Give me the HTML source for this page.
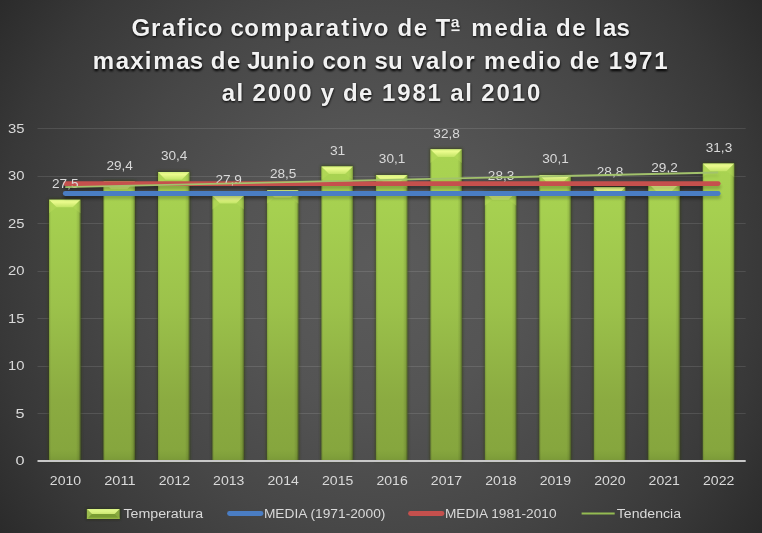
<!DOCTYPE html>
<html><head><meta charset="utf-8"><style>
html,body{margin:0;padding:0;background:#2a2a2a;}
svg{display:block;}
text{font-family:"Liberation Sans", sans-serif;opacity:0.999;}
.t{opacity:0.999;}
</style></head><body>
<svg width="762" height="533" viewBox="0 0 762 533">
<defs>
<radialGradient id="bg" cx="381" cy="266" r="470" gradientUnits="userSpaceOnUse">
<stop offset="0" stop-color="#5b5b5b"/>
<stop offset="0.3" stop-color="#545454"/>
<stop offset="0.57" stop-color="#474747"/>
<stop offset="0.82" stop-color="#383838"/>
<stop offset="1" stop-color="#2a2a2a"/>
</radialGradient>
<linearGradient id="bar" x1="0" y1="150" x2="0" y2="461" gradientUnits="userSpaceOnUse">
<stop offset="0" stop-color="#aad452"/>
<stop offset="0.193" stop-color="#a6d050"/>
<stop offset="0.498" stop-color="#9cc24b"/>
<stop offset="0.804" stop-color="#8bab41"/>
<stop offset="0.965" stop-color="#86a63e"/>
<stop offset="0.985" stop-color="#80a03b"/>
<stop offset="1" stop-color="#7a9838"/>
</linearGradient>
<linearGradient id="barh" x1="0" y1="0" x2="1" y2="0">
<stop offset="0" stop-color="#000" stop-opacity="0.16"/>
<stop offset="0.06" stop-color="#000" stop-opacity="0"/>
<stop offset="0.86" stop-color="#000" stop-opacity="0"/>
<stop offset="0.94" stop-color="#000" stop-opacity="0.1"/>
<stop offset="1" stop-color="#000" stop-opacity="0.38"/>
</linearGradient>
<linearGradient id="bevtop" x1="0" y1="0" x2="0" y2="1">
<stop offset="0" stop-color="#d6f080"/>
<stop offset="0.3" stop-color="#ebfb8c"/>
<stop offset="1" stop-color="#c2e466"/>
</linearGradient>
<linearGradient id="lgbev" x1="0" y1="0" x2="0" y2="1">
<stop offset="0" stop-color="#d8f282"/>
<stop offset="0.4" stop-color="#e0f68a"/>
<stop offset="1" stop-color="#cce872"/>
</linearGradient>
<filter id="sh" x="-20%" y="-5%" width="140%" height="110%">
<feGaussianBlur stdDeviation="1.6"/>
</filter>
<filter id="lsh" x="-5%" y="-200%" width="110%" height="500%">
<feGaussianBlur stdDeviation="1.8"/>
</filter>
<filter id="tsh" x="-5%" y="-20%" width="110%" height="140%">
<feGaussianBlur stdDeviation="1"/>
</filter>
</defs>
<rect width="762" height="533" fill="url(#bg)"/>

<rect x="37.5" y="413" width="708.2" height="1" fill="#ffffff" fill-opacity="0.11"/>
<rect x="37.5" y="366" width="708.2" height="1" fill="#ffffff" fill-opacity="0.11"/>
<rect x="37.5" y="318" width="708.2" height="1" fill="#ffffff" fill-opacity="0.11"/>
<rect x="37.5" y="271" width="708.2" height="1" fill="#ffffff" fill-opacity="0.11"/>
<rect x="37.5" y="223" width="708.2" height="1" fill="#ffffff" fill-opacity="0.11"/>
<rect x="37.5" y="176" width="708.2" height="1" fill="#ffffff" fill-opacity="0.11"/>
<rect x="37.5" y="128" width="708.2" height="1" fill="#ffffff" fill-opacity="0.11"/>
<text x="24.5" y="465.2" font-size="12.5" fill="#d9d9d9" text-anchor="end" textLength="9.04" lengthAdjust="spacingAndGlyphs">0</text>
<text x="24.5" y="417.7" font-size="12.5" fill="#d9d9d9" text-anchor="end" textLength="9.04" lengthAdjust="spacingAndGlyphs">5</text>
<text x="24.5" y="370.2" font-size="12.5" fill="#d9d9d9" text-anchor="end" textLength="16.48" lengthAdjust="spacingAndGlyphs">10</text>
<text x="24.5" y="322.7" font-size="12.5" fill="#d9d9d9" text-anchor="end" textLength="16.48" lengthAdjust="spacingAndGlyphs">15</text>
<text x="24.5" y="275.2" font-size="12.5" fill="#d9d9d9" text-anchor="end" textLength="16.48" lengthAdjust="spacingAndGlyphs">20</text>
<text x="24.5" y="227.7" font-size="12.5" fill="#d9d9d9" text-anchor="end" textLength="16.48" lengthAdjust="spacingAndGlyphs">25</text>
<text x="24.5" y="180.2" font-size="12.5" fill="#d9d9d9" text-anchor="end" textLength="16.48" lengthAdjust="spacingAndGlyphs">30</text>
<text x="24.5" y="132.6" font-size="12.5" fill="#d9d9d9" text-anchor="end" textLength="16.48" lengthAdjust="spacingAndGlyphs">35</text>
<g filter="url(#lsh)" opacity="0.22" transform="translate(0.5,3.2)">
<line x1="65.24" x2="718.20" y1="183.61" y2="183.61" stroke="#000" stroke-width="4.8" stroke-linecap="round"/>
<line x1="65.24" x2="718.20" y1="193.49" y2="193.49" stroke="#000" stroke-width="4.8" stroke-linecap="round"/>
<line x1="65.24" x2="718.20" y1="187.18" y2="172.51" stroke="#000" stroke-width="1.8" opacity="0.5"/>
</g>
<rect x="48.54" y="198.87" width="32.40" height="262.13" fill="#2a3a0c" opacity="0.7" filter="url(#sh)"/>
<rect x="49.04" y="199.67" width="31.40" height="261.33" fill="url(#bar)"/>
<rect x="49.04" y="199.67" width="31.40" height="261.33" fill="url(#barh)"/>
<path d="M49.04,199.67 L56.64,207.27 L49.04,213.27 Z" fill="#b8dc5c" opacity="0.45"/>
<path d="M49.04,199.67 L80.44,199.67 L72.84,207.27 L56.64,207.27 Z" fill="url(#bevtop)"/>
<path d="M80.44,199.67 L72.84,207.27 L80.44,213.27 Z" fill="#b8dc5c" opacity="0.35"/>
<rect x="103.02" y="180.81" width="32.40" height="280.19" fill="#2a3a0c" opacity="0.7" filter="url(#sh)"/>
<rect x="103.52" y="181.61" width="31.40" height="279.39" fill="url(#bar)"/>
<rect x="103.52" y="181.61" width="31.40" height="279.39" fill="url(#barh)"/>
<path d="M103.52,181.61 L111.12,189.21 L103.52,195.21 Z" fill="#b8dc5c" opacity="0.45"/>
<path d="M103.52,181.61 L134.92,181.61 L127.32,189.21 L111.12,189.21 Z" fill="url(#bevtop)"/>
<path d="M134.92,181.61 L127.32,189.21 L134.92,195.21 Z" fill="#b8dc5c" opacity="0.35"/>
<rect x="157.50" y="171.31" width="32.40" height="289.69" fill="#2a3a0c" opacity="0.7" filter="url(#sh)"/>
<rect x="158.00" y="172.11" width="31.40" height="288.89" fill="url(#bar)"/>
<rect x="158.00" y="172.11" width="31.40" height="288.89" fill="url(#barh)"/>
<path d="M158.00,172.11 L165.60,179.71 L158.00,185.71 Z" fill="#b8dc5c" opacity="0.45"/>
<path d="M158.00,172.11 L189.40,172.11 L181.80,179.71 L165.60,179.71 Z" fill="url(#bevtop)"/>
<path d="M189.40,172.11 L181.80,179.71 L189.40,185.71 Z" fill="#b8dc5c" opacity="0.35"/>
<rect x="211.98" y="195.07" width="32.40" height="265.93" fill="#2a3a0c" opacity="0.7" filter="url(#sh)"/>
<rect x="212.48" y="195.87" width="31.40" height="265.13" fill="url(#bar)"/>
<rect x="212.48" y="195.87" width="31.40" height="265.13" fill="url(#barh)"/>
<path d="M212.48,195.87 L220.08,203.47 L212.48,209.47 Z" fill="#b8dc5c" opacity="0.45"/>
<path d="M212.48,195.87 L243.88,195.87 L236.28,203.47 L220.08,203.47 Z" fill="url(#bevtop)"/>
<path d="M243.88,195.87 L236.28,203.47 L243.88,209.47 Z" fill="#b8dc5c" opacity="0.35"/>
<rect x="266.46" y="189.36" width="32.40" height="271.64" fill="#2a3a0c" opacity="0.7" filter="url(#sh)"/>
<rect x="266.96" y="190.16" width="31.40" height="270.84" fill="url(#bar)"/>
<rect x="266.96" y="190.16" width="31.40" height="270.84" fill="url(#barh)"/>
<path d="M266.96,190.16 L274.56,197.76 L266.96,203.76 Z" fill="#b8dc5c" opacity="0.45"/>
<path d="M266.96,190.16 L298.36,190.16 L290.76,197.76 L274.56,197.76 Z" fill="url(#bevtop)"/>
<path d="M298.36,190.16 L290.76,197.76 L298.36,203.76 Z" fill="#b8dc5c" opacity="0.35"/>
<rect x="320.94" y="165.61" width="32.40" height="295.39" fill="#2a3a0c" opacity="0.7" filter="url(#sh)"/>
<rect x="321.44" y="166.41" width="31.40" height="294.59" fill="url(#bar)"/>
<rect x="321.44" y="166.41" width="31.40" height="294.59" fill="url(#barh)"/>
<path d="M321.44,166.41 L329.04,174.01 L321.44,180.01 Z" fill="#b8dc5c" opacity="0.45"/>
<path d="M321.44,166.41 L352.84,166.41 L345.24,174.01 L329.04,174.01 Z" fill="url(#bevtop)"/>
<path d="M352.84,166.41 L345.24,174.01 L352.84,180.01 Z" fill="#b8dc5c" opacity="0.35"/>
<rect x="375.42" y="174.16" width="32.40" height="286.84" fill="#2a3a0c" opacity="0.7" filter="url(#sh)"/>
<rect x="375.92" y="174.96" width="31.40" height="286.04" fill="url(#bar)"/>
<rect x="375.92" y="174.96" width="31.40" height="286.04" fill="url(#barh)"/>
<path d="M375.92,174.96 L383.52,182.56 L375.92,188.56 Z" fill="#b8dc5c" opacity="0.45"/>
<path d="M375.92,174.96 L407.32,174.96 L399.72,182.56 L383.52,182.56 Z" fill="url(#bevtop)"/>
<path d="M407.32,174.96 L399.72,182.56 L407.32,188.56 Z" fill="#b8dc5c" opacity="0.35"/>
<rect x="429.90" y="148.50" width="32.40" height="312.50" fill="#2a3a0c" opacity="0.7" filter="url(#sh)"/>
<rect x="430.40" y="149.30" width="31.40" height="311.70" fill="url(#bar)"/>
<rect x="430.40" y="149.30" width="31.40" height="311.70" fill="url(#barh)"/>
<path d="M430.40,149.30 L438.00,156.90 L430.40,162.90 Z" fill="#b8dc5c" opacity="0.45"/>
<path d="M430.40,149.30 L461.80,149.30 L454.20,156.90 L438.00,156.90 Z" fill="url(#bevtop)"/>
<path d="M461.80,149.30 L454.20,156.90 L461.80,162.90 Z" fill="#b8dc5c" opacity="0.35"/>
<rect x="484.38" y="191.27" width="32.40" height="269.73" fill="#2a3a0c" opacity="0.7" filter="url(#sh)"/>
<rect x="484.88" y="192.07" width="31.40" height="268.93" fill="url(#bar)"/>
<rect x="484.88" y="192.07" width="31.40" height="268.93" fill="url(#barh)"/>
<path d="M484.88,192.07 L492.48,199.67 L484.88,205.67 Z" fill="#b8dc5c" opacity="0.45"/>
<path d="M484.88,192.07 L516.28,192.07 L508.68,199.67 L492.48,199.67 Z" fill="url(#bevtop)"/>
<path d="M516.28,192.07 L508.68,199.67 L516.28,205.67 Z" fill="#b8dc5c" opacity="0.35"/>
<rect x="538.86" y="174.16" width="32.40" height="286.84" fill="#2a3a0c" opacity="0.7" filter="url(#sh)"/>
<rect x="539.36" y="174.96" width="31.40" height="286.04" fill="url(#bar)"/>
<rect x="539.36" y="174.96" width="31.40" height="286.04" fill="url(#barh)"/>
<path d="M539.36,174.96 L546.96,182.56 L539.36,188.56 Z" fill="#b8dc5c" opacity="0.45"/>
<path d="M539.36,174.96 L570.76,174.96 L563.16,182.56 L546.96,182.56 Z" fill="url(#bevtop)"/>
<path d="M570.76,174.96 L563.16,182.56 L570.76,188.56 Z" fill="#b8dc5c" opacity="0.35"/>
<rect x="593.34" y="186.51" width="32.40" height="274.49" fill="#2a3a0c" opacity="0.7" filter="url(#sh)"/>
<rect x="593.84" y="187.31" width="31.40" height="273.69" fill="url(#bar)"/>
<rect x="593.84" y="187.31" width="31.40" height="273.69" fill="url(#barh)"/>
<path d="M593.84,187.31 L601.44,194.91 L593.84,200.91 Z" fill="#b8dc5c" opacity="0.45"/>
<path d="M593.84,187.31 L625.24,187.31 L617.64,194.91 L601.44,194.91 Z" fill="url(#bevtop)"/>
<path d="M625.24,187.31 L617.64,194.91 L625.24,200.91 Z" fill="#b8dc5c" opacity="0.35"/>
<rect x="647.82" y="182.71" width="32.40" height="278.29" fill="#2a3a0c" opacity="0.7" filter="url(#sh)"/>
<rect x="648.32" y="183.51" width="31.40" height="277.49" fill="url(#bar)"/>
<rect x="648.32" y="183.51" width="31.40" height="277.49" fill="url(#barh)"/>
<path d="M648.32,183.51 L655.92,191.11 L648.32,197.11 Z" fill="#b8dc5c" opacity="0.45"/>
<path d="M648.32,183.51 L679.72,183.51 L672.12,191.11 L655.92,191.11 Z" fill="url(#bevtop)"/>
<path d="M679.72,183.51 L672.12,191.11 L679.72,197.11 Z" fill="#b8dc5c" opacity="0.35"/>
<rect x="702.30" y="162.76" width="32.40" height="298.24" fill="#2a3a0c" opacity="0.7" filter="url(#sh)"/>
<rect x="702.80" y="163.56" width="31.40" height="297.44" fill="url(#bar)"/>
<rect x="702.80" y="163.56" width="31.40" height="297.44" fill="url(#barh)"/>
<path d="M702.80,163.56 L710.40,171.16 L702.80,177.16 Z" fill="#b8dc5c" opacity="0.45"/>
<path d="M702.80,163.56 L734.20,163.56 L726.60,171.16 L710.40,171.16 Z" fill="url(#bevtop)"/>
<path d="M734.20,163.56 L726.60,171.16 L734.20,177.16 Z" fill="#b8dc5c" opacity="0.35"/>
<rect x="37.5" y="460" width="708.2" height="2" fill="#c8c8c8"/>
<g filter="url(#lsh)" opacity="0.2" transform="translate(0.5,3.2)">
<line x1="65.24" x2="718.20" y1="183.61" y2="183.61" stroke="#000" stroke-width="4.8" stroke-linecap="round"/>
<line x1="65.24" x2="718.20" y1="193.49" y2="193.49" stroke="#000" stroke-width="4.8" stroke-linecap="round"/>
<line x1="65.24" x2="718.20" y1="187.18" y2="172.51" stroke="#000" stroke-width="1.8" opacity="0.5"/>
</g>
<line x1="65.24" x2="718.20" y1="183.61" y2="183.61" stroke="#c5504d" stroke-width="4.8" stroke-linecap="round"/>
<line x1="65.24" x2="718.20" y1="193.49" y2="193.49" stroke="#4a7dc3" stroke-width="4.8" stroke-linecap="round"/>
<text x="65.24" y="187.9" font-size="12.5" fill="#d9d9d9" text-anchor="middle" textLength="26.48" lengthAdjust="spacingAndGlyphs">27,5</text>
<text x="119.72" y="169.8" font-size="12.5" fill="#d9d9d9" text-anchor="middle" textLength="26.48" lengthAdjust="spacingAndGlyphs">29,4</text>
<text x="174.20" y="160.3" font-size="12.5" fill="#d9d9d9" text-anchor="middle" textLength="26.48" lengthAdjust="spacingAndGlyphs">30,4</text>
<text x="228.68" y="184.1" font-size="12.5" fill="#d9d9d9" text-anchor="middle" textLength="26.48" lengthAdjust="spacingAndGlyphs">27,9</text>
<text x="283.16" y="178.4" font-size="12.5" fill="#d9d9d9" text-anchor="middle" textLength="26.48" lengthAdjust="spacingAndGlyphs">28,5</text>
<text x="337.64" y="154.6" font-size="12.5" fill="#d9d9d9" text-anchor="middle" textLength="15.38" lengthAdjust="spacingAndGlyphs">31</text>
<text x="392.12" y="163.2" font-size="12.5" fill="#d9d9d9" text-anchor="middle" textLength="26.48" lengthAdjust="spacingAndGlyphs">30,1</text>
<text x="446.60" y="137.5" font-size="12.5" fill="#d9d9d9" text-anchor="middle" textLength="26.48" lengthAdjust="spacingAndGlyphs">32,8</text>
<text x="501.08" y="180.3" font-size="12.5" fill="#d9d9d9" text-anchor="middle" textLength="26.48" lengthAdjust="spacingAndGlyphs">28,3</text>
<text x="555.56" y="163.2" font-size="12.5" fill="#d9d9d9" text-anchor="middle" textLength="26.48" lengthAdjust="spacingAndGlyphs">30,1</text>
<text x="610.04" y="175.5" font-size="12.5" fill="#d9d9d9" text-anchor="middle" textLength="26.48" lengthAdjust="spacingAndGlyphs">28,8</text>
<text x="664.52" y="171.7" font-size="12.5" fill="#d9d9d9" text-anchor="middle" textLength="26.48" lengthAdjust="spacingAndGlyphs">29,2</text>
<text x="719.00" y="151.8" font-size="12.5" fill="#d9d9d9" text-anchor="middle" textLength="26.48" lengthAdjust="spacingAndGlyphs">31,3</text>
<line x1="65.24" x2="718.20" y1="187.18" y2="172.51" stroke="#a2c26c" stroke-width="1.8"/>
<text x="65.50" y="484.7" font-size="12.5" fill="#d9d9d9" text-anchor="middle" textLength="31.35" lengthAdjust="spacingAndGlyphs">2010</text>
<text x="119.93" y="484.7" font-size="12.5" fill="#d9d9d9" text-anchor="middle" textLength="31.35" lengthAdjust="spacingAndGlyphs">2011</text>
<text x="174.36" y="484.7" font-size="12.5" fill="#d9d9d9" text-anchor="middle" textLength="31.35" lengthAdjust="spacingAndGlyphs">2012</text>
<text x="228.79" y="484.7" font-size="12.5" fill="#d9d9d9" text-anchor="middle" textLength="31.35" lengthAdjust="spacingAndGlyphs">2013</text>
<text x="283.22" y="484.7" font-size="12.5" fill="#d9d9d9" text-anchor="middle" textLength="31.35" lengthAdjust="spacingAndGlyphs">2014</text>
<text x="337.65" y="484.7" font-size="12.5" fill="#d9d9d9" text-anchor="middle" textLength="31.35" lengthAdjust="spacingAndGlyphs">2015</text>
<text x="392.08" y="484.7" font-size="12.5" fill="#d9d9d9" text-anchor="middle" textLength="31.35" lengthAdjust="spacingAndGlyphs">2016</text>
<text x="446.51" y="484.7" font-size="12.5" fill="#d9d9d9" text-anchor="middle" textLength="31.35" lengthAdjust="spacingAndGlyphs">2017</text>
<text x="500.94" y="484.7" font-size="12.5" fill="#d9d9d9" text-anchor="middle" textLength="31.35" lengthAdjust="spacingAndGlyphs">2018</text>
<text x="555.37" y="484.7" font-size="12.5" fill="#d9d9d9" text-anchor="middle" textLength="31.35" lengthAdjust="spacingAndGlyphs">2019</text>
<text x="609.80" y="484.7" font-size="12.5" fill="#d9d9d9" text-anchor="middle" textLength="31.35" lengthAdjust="spacingAndGlyphs">2020</text>
<text x="664.23" y="484.7" font-size="12.5" fill="#d9d9d9" text-anchor="middle" textLength="31.35" lengthAdjust="spacingAndGlyphs">2021</text>
<text x="718.66" y="484.7" font-size="12.5" fill="#d9d9d9" text-anchor="middle" textLength="31.35" lengthAdjust="spacingAndGlyphs">2022</text>
<text x="131.75 151.22 162.19 177.33 187.12 194.28 208.04 223.87 230.76 244.52 260.88 283.91 299.98 314.96 325.93 341.48 351.69 359.60 374.10 389.94 397.77 413.96 428.67 435.83 451.00 463.30 471.49 494.72 509.59 525.68 533.86 548.45 556.28 572.47 587.18 595.11 603.29 616.85" y="36.900000000000006" font-size="24" font-weight="bold" fill="#000" opacity="0.45" filter="url(#tsh)">Grafico comparativo de Tª media de las</text>
<text x="131.45 150.92 161.89 177.03 186.82 193.98 207.74 223.57 230.46 244.22 260.58 283.61 299.68 314.66 325.63 341.18 351.39 359.30 373.80 389.64 397.47 413.66 428.37 435.53 450.70 463.00 471.19 494.42 509.29 525.38 533.56 548.15 555.98 572.17 586.88 594.81 602.99 616.55" y="35.7" font-size="24" font-weight="bold" fill="#f2f2f2">Grafico comparativo de Tª media de las</text>
<text x="93.03 116.10 130.54 145.00 153.43 176.50 190.04 203.34 211.15 227.31 242.00 247.55 259.95 275.91 291.98 300.06 315.88 322.75 336.48 352.46 368.26 374.88 388.34 404.14 411.76 426.30 441.14 449.23 465.43 476.14 484.30 507.49 522.34 538.41 546.50 562.31 570.12 586.28 600.97 609.04 624.20 639.36 654.52" y="70.5" font-size="24" font-weight="bold" fill="#000" opacity="0.45" filter="url(#tsh)">maximas de Junio con su valor medio de 1971</text>
<text x="92.73 115.80 130.24 144.70 153.13 176.20 189.74 203.04 210.85 227.01 241.70 247.25 259.65 275.61 291.68 299.76 315.58 322.45 336.18 352.16 367.96 374.58 388.04 403.84 411.46 426.00 440.84 448.93 465.13 475.84 484.00 507.19 522.04 538.11 546.20 562.01 569.82 585.98 600.67 608.74 623.90 639.06 654.22" y="69.3" font-size="24" font-weight="bold" fill="#f2f2f2">maximas de Junio con su valor medio de 1971</text>
<text x="221.98 236.86 244.80 252.91 268.13 283.34 298.56 313.34 321.00 335.35 343.20 359.42 374.15 382.26 397.47 412.69 427.90 442.69 450.62 465.50 473.44 481.55 496.76 511.98 527.20" y="102.2" font-size="24" font-weight="bold" fill="#000" opacity="0.45" filter="url(#tsh)">al 2000 y de 1981 al 2010</text>
<text x="221.68 236.56 244.50 252.61 267.83 283.04 298.26 313.04 320.70 335.05 342.90 359.12 373.85 381.96 397.17 412.39 427.60 442.39 450.32 465.20 473.14 481.25 496.46 511.68 526.90" y="101" font-size="24" font-weight="bold" fill="#f2f2f2">al 2000 y de 1981 al 2010</text>
<rect x="451.4" y="29.4" width="8.2" height="1.7" fill="#f2f2f2"/>
<rect x="86" y="508.2" width="34.4" height="11.5" fill="#1e2a10" opacity="0.6" filter="url(#tsh)"/>
<rect x="86.9" y="509" width="32.7" height="9.9" fill="#7a9c34"/>
<rect x="86.9" y="517.7" width="32.7" height="1.2" fill="#98b848"/>
<path d="M86.9,509 L119.6,509 L114.7,513.9 L91.8,513.9 Z" fill="url(#lgbev)"/>
<path d="M86.9,509 L91.8,513.9 L86.9,518.9 Z" fill="#a8c85a" opacity="0.7"/>
<path d="M119.6,509 L114.7,513.9 L119.6,518.9 Z" fill="#a8c85a" opacity="0.35"/>
<text x="123.4" y="518" font-size="12.5" fill="#d9d9d9" textLength="79.89" lengthAdjust="spacingAndGlyphs">Temperatura</text>
<text x="263.9" y="518" font-size="12.5" fill="#d9d9d9" textLength="121.51" lengthAdjust="spacingAndGlyphs">MEDIA (1971-2000)</text>
<text x="444.9" y="518" font-size="12.5" fill="#d9d9d9" textLength="111.62" lengthAdjust="spacingAndGlyphs">MEDIA 1981-2010</text>
<text x="616.8" y="518" font-size="12.5" fill="#d9d9d9" textLength="64.25" lengthAdjust="spacingAndGlyphs">Tendencia</text>
<line x1="229.5" x2="261" y1="513.5" y2="513.5" stroke="#4a7dc3" stroke-width="4.8" stroke-linecap="round"/>
<line x1="410.5" x2="442" y1="513.5" y2="513.5" stroke="#c5504d" stroke-width="4.8" stroke-linecap="round"/>
<line x1="581.6" x2="614.7" y1="513.5" y2="513.5" stroke="#94bb52" stroke-width="2"/>
</svg></body></html>
